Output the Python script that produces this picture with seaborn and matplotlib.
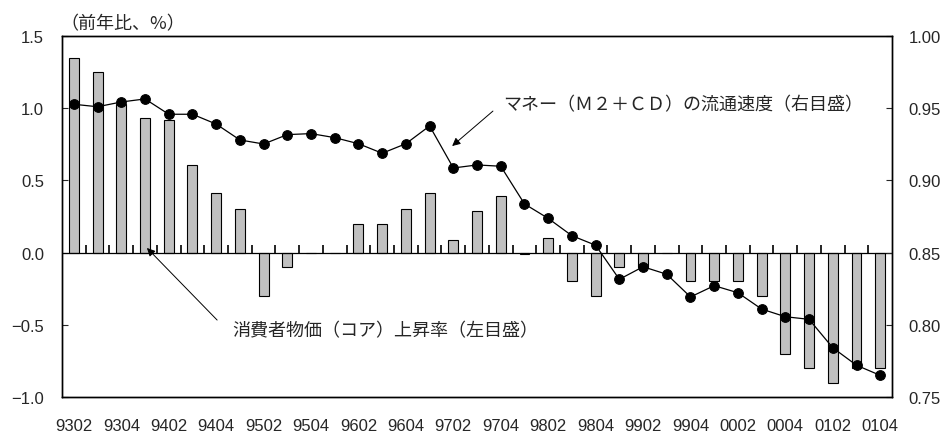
import numpy as np
import pandas as pd
import matplotlib
matplotlib.use('Agg')
import matplotlib.pyplot as plt
from matplotlib.ticker import FuncFormatter
import seaborn as sns

# Quarter labels (YYQQ) and series
quarters = ['9302', '9303', '9304', '9401', '9402', '9403', '9404',
            '9501', '9502', '9503', '9504', '9601', '9602', '9603', '9604',
            '9701', '9702', '9703', '9704', '9801', '9802', '9803', '9804',
            '9901', '9902', '9903', '9904', '0001', '0002', '0003', '0004',
            '0101', '0102', '0103', '0104']

# core CPI, y/y % (left axis)
cpi_core = [1.35, 1.25, 1.03, 0.93, 0.92, 0.61, 0.41,
            0.30, -0.30, -0.10, 0.0, 0.0, 0.20, 0.20, 0.30,
            0.41, 0.09, 0.29, 0.39, -0.01, 0.10, -0.20, -0.30,
            -0.10, -0.10, 0.0, -0.20, -0.20, -0.20, -0.30, -0.70,
            -0.80, -0.90, -0.80, -0.80]

# money (M2+CD) velocity (right axis)
velocity = [0.9527, 0.9510, 0.9543, 0.9564, 0.9458, 0.9458, 0.9390,
            0.9280, 0.9252, 0.9317, 0.9324, 0.9296, 0.9254, 0.9188, 0.9254,
            0.9377, 0.9086, 0.9107, 0.9098, 0.8837, 0.8737, 0.8617, 0.8551,
            0.8315, 0.8402, 0.8350, 0.8193, 0.8271, 0.8222, 0.8109, 0.8056,
            0.8038, 0.7841, 0.7720, 0.7650]

left_ticks = [-1.0, -0.5, 0.0, 0.5, 1.0, 1.5]
right_ticks = [0.75, 0.80, 0.85, 0.90, 0.95, 1.00]

df = pd.DataFrame({'quarter': quarters, 'cpi': cpi_core, 'velocity': velocity})
df['pos'] = np.arange(len(df))

sns.set_style('white')
plt.rcParams['font.family'] = ['Liberation Sans', 'Noto Sans CJK JP']
jp = ['Noto Sans CJK JP', 'Liberation Sans']


def fmt(decimals):
    return FuncFormatter(lambda v, _: f'{v:.{decimals}f}'.replace('-', '\u2212'))


fig = plt.figure(figsize=(9.47, 4.35), dpi=100)
ax = fig.add_axes([0.0655, 0.085, 0.8765, 0.83])

sns.barplot(data=df, x='quarter', y='cpi', color='#c0c0c0', saturation=1,
            edgecolor='black', linewidth=0.8, width=0.42, errorbar=None, ax=ax)

# zero line with small ticks between quarters
ax.axhline(0, color='black', linewidth=0.9, zorder=3)
ax.vlines(df['pos'][:-1] + 0.5, 0, 0.05, colors='black', linewidth=1.2, zorder=3)

ax2 = ax.twinx()
sns.lineplot(data=df, x='pos', y='velocity', color='black', linewidth=0.9,
             marker='o', markersize=7, markeredgecolor='black', ax=ax2)

n = len(df)
ax.set_xlim(-0.5, n - 0.5)
ax.set_ylim(left_ticks[0], left_ticks[-1])
ax2.set_ylim(right_ticks[0], right_ticks[-1])
for a in (ax, ax2):
    a.set_xlabel('')
    a.set_ylabel('')

# labels every other quarter along the bottom frame
ax.set_xticks(df['pos'][::2])
ax.set_xticklabels(df['quarter'][::2])
ax.tick_params(axis='x', length=0, labelsize=12, pad=15)

ax.set_yticks(left_ticks)
ax.yaxis.set_major_formatter(fmt(1))
ax.tick_params(axis='y', direction='in', length=4, width=0.8, labelsize=12, pad=13)
ax2.set_yticks(right_ticks)
ax2.yaxis.set_major_formatter(fmt(2))
ax2.tick_params(axis='y', direction='in', length=4, width=0.8, labelsize=12, pad=12)

for a in (ax, ax2):
    for s in a.spines.values():
        s.set_visible(True)
        s.set_color('black')
        s.set_linewidth(1.0)

ax.text(-0.002, 1.035, '（前年比、%）', transform=ax.transAxes, fontsize=13,
        family=jp, ha='left', va='center')

arrow = dict(arrowstyle='-|>', color='black', lw=0.7, mutation_scale=12,
             shrinkA=0, shrinkB=0)

ax2.text(18.1, 0.9529, 'マネー（Ｍ２＋ＣＤ）の流通速度（右目盛）', fontsize=13,
         family=jp, ha='left', va='center')
ax2.annotate('', xy=(15.95, 0.9238), xytext=(17.67, 0.948), arrowprops=arrow)

ax.text(6.67, -0.536, '消費者物価（コア）上昇率（左目盛）', fontsize=13,
        family=jp, ha='left', va='center')
ax.annotate('', xy=(3.08, 0.032), xytext=(6.04, -0.467), arrowprops=arrow)

fig.savefig('out.png', dpi=100)
